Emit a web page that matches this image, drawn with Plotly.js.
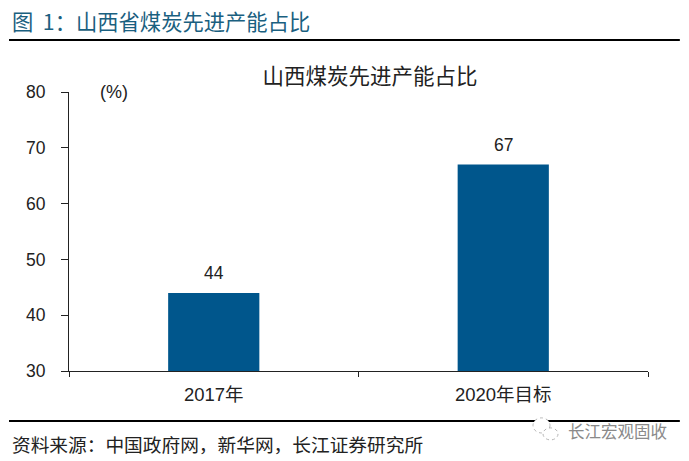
<!DOCTYPE html>
<html><head><meta charset="utf-8">
<script src="https://cdn.plot.ly/plotly-3.0.1.min.js"></script>
<style>html,body{margin:0;padding:0;background:#fff}</style></head>
<body><div id="chart" style="width:689px;height:461px"></div>
<script>
const categories = ["2017年", "2020年目标"];
const shares = [44, 67];
const yTicks = [30, 40, 50, 60, 70, 80];
const font = '"Liberation Sans","Noto Sans CJK SC",sans-serif';
const cjk = '"Noto Sans CJK SC",sans-serif';
const valueLabels = shares.map((v, i) => ({
  text: String(v), x: categories[i], y: v, xref: 'x', yref: 'y', xanchor: 'center', yanchor: 'bottom',
  yshift: 8, showarrow: false, font: {family: font, size: 17.5, color: '#222'}
}));
Plotly.newPlot('chart', [{
  type: 'bar', x: categories, y: shares, width: 0.315,
  marker: {color: '#00568c'}, hoverinfo: 'x+y'
}], {
  width: 689, height: 461, showlegend: false,
  paper_bgcolor: '#fff', plot_bgcolor: '#fff',
  margin: {l: 69, r: 41, t: 92, b: 90},
  font: {family: font, size: 17, color: '#222'},
  title: {text: '山西煤炭先进产能占比', font: {family: cjk, size: 21.5, color: '#222'},
          x: 0.537, xanchor: 'center', y: 0.834, yanchor: 'middle'},
  xaxis: {type: 'category', tickson: 'boundaries', ticks: 'outside', ticklen: 5,
          tickcolor: '#222', linecolor: '#222', linewidth: 1, showline: true, ticklabelstandoff: 7,
          tickfont: {family: font, size: 18.5, color: '#222'}, showgrid: false, range: [-0.5, 1.5]},
  yaxis: {range: [30, 80], tickvals: yTicks, ticks: 'outside', ticklen: 7, ticklabelstandoff: 12,
          tickcolor: '#222', linecolor: '#222', linewidth: 1, showline: true,
          tickfont: {family: font, size: 17.5, color: '#222'}, showgrid: false, zeroline: false},
  shapes: [
    {type: 'line', xref: 'paper', yref: 'paper', x0: -0.1036, x1: 1.055, y0: 1.186, y1: 1.186, line: {color: '#000', width: 2}},
    {type: 'line', xref: 'paper', yref: 'paper', x0: -0.1036, x1: 1.055, y0: -0.179, y1: -0.179, line: {color: '#000', width: 2}},
    {type: 'circle', xref: 'paper', yref: 'paper', x0: 0.8014, x1: 0.8307, y0: -0.168, y1: -0.222, fillcolor: '#fff', line: {color: '#b5b5b5', width: 1, dash: 'dot'}},
    {type: 'circle', xref: 'paper', yref: 'paper', x0: 0.8187, x1: 0.8446, y0: -0.204, y1: -0.247, fillcolor: '#fff', line: {color: '#b5b5b5', width: 1, dash: 'dot'}}
  ],
  annotations: valueLabels.concat([
    {text: '图\u00a0\u00a01：山西省煤炭先进产能占比', xref: 'paper', yref: 'paper', x: -0.102, y: 1.256, xanchor: 'left', yanchor: 'middle', showarrow: false,
     font: {family: cjk, size: 21.3, color: '#1a6080'}},
    {text: '(%)', xref: 'paper', yref: 'paper', x: 0.05, y: 1.0, xanchor: 'left', yanchor: 'middle', showarrow: false,
     font: {family: font, size: 18, color: '#222'}},
    {text: '资料来源：中国政府网，新华网，长江证券研究所', xref: 'paper', yref: 'paper', x: -0.102, y: -0.26, xanchor: 'left', yanchor: 'middle', showarrow: false,
     font: {family: cjk, size: 18.7, color: '#222'}},
    {text: '长江宏观固收', xref: 'paper', yref: 'paper', x: 1.036, y: -0.215, xanchor: 'right', yanchor: 'middle', showarrow: false,
     font: {family: cjk, size: 16.5, color: '#8a8a8a'}}
  ])
}, {displayModeBar: false});
</script></body></html>
